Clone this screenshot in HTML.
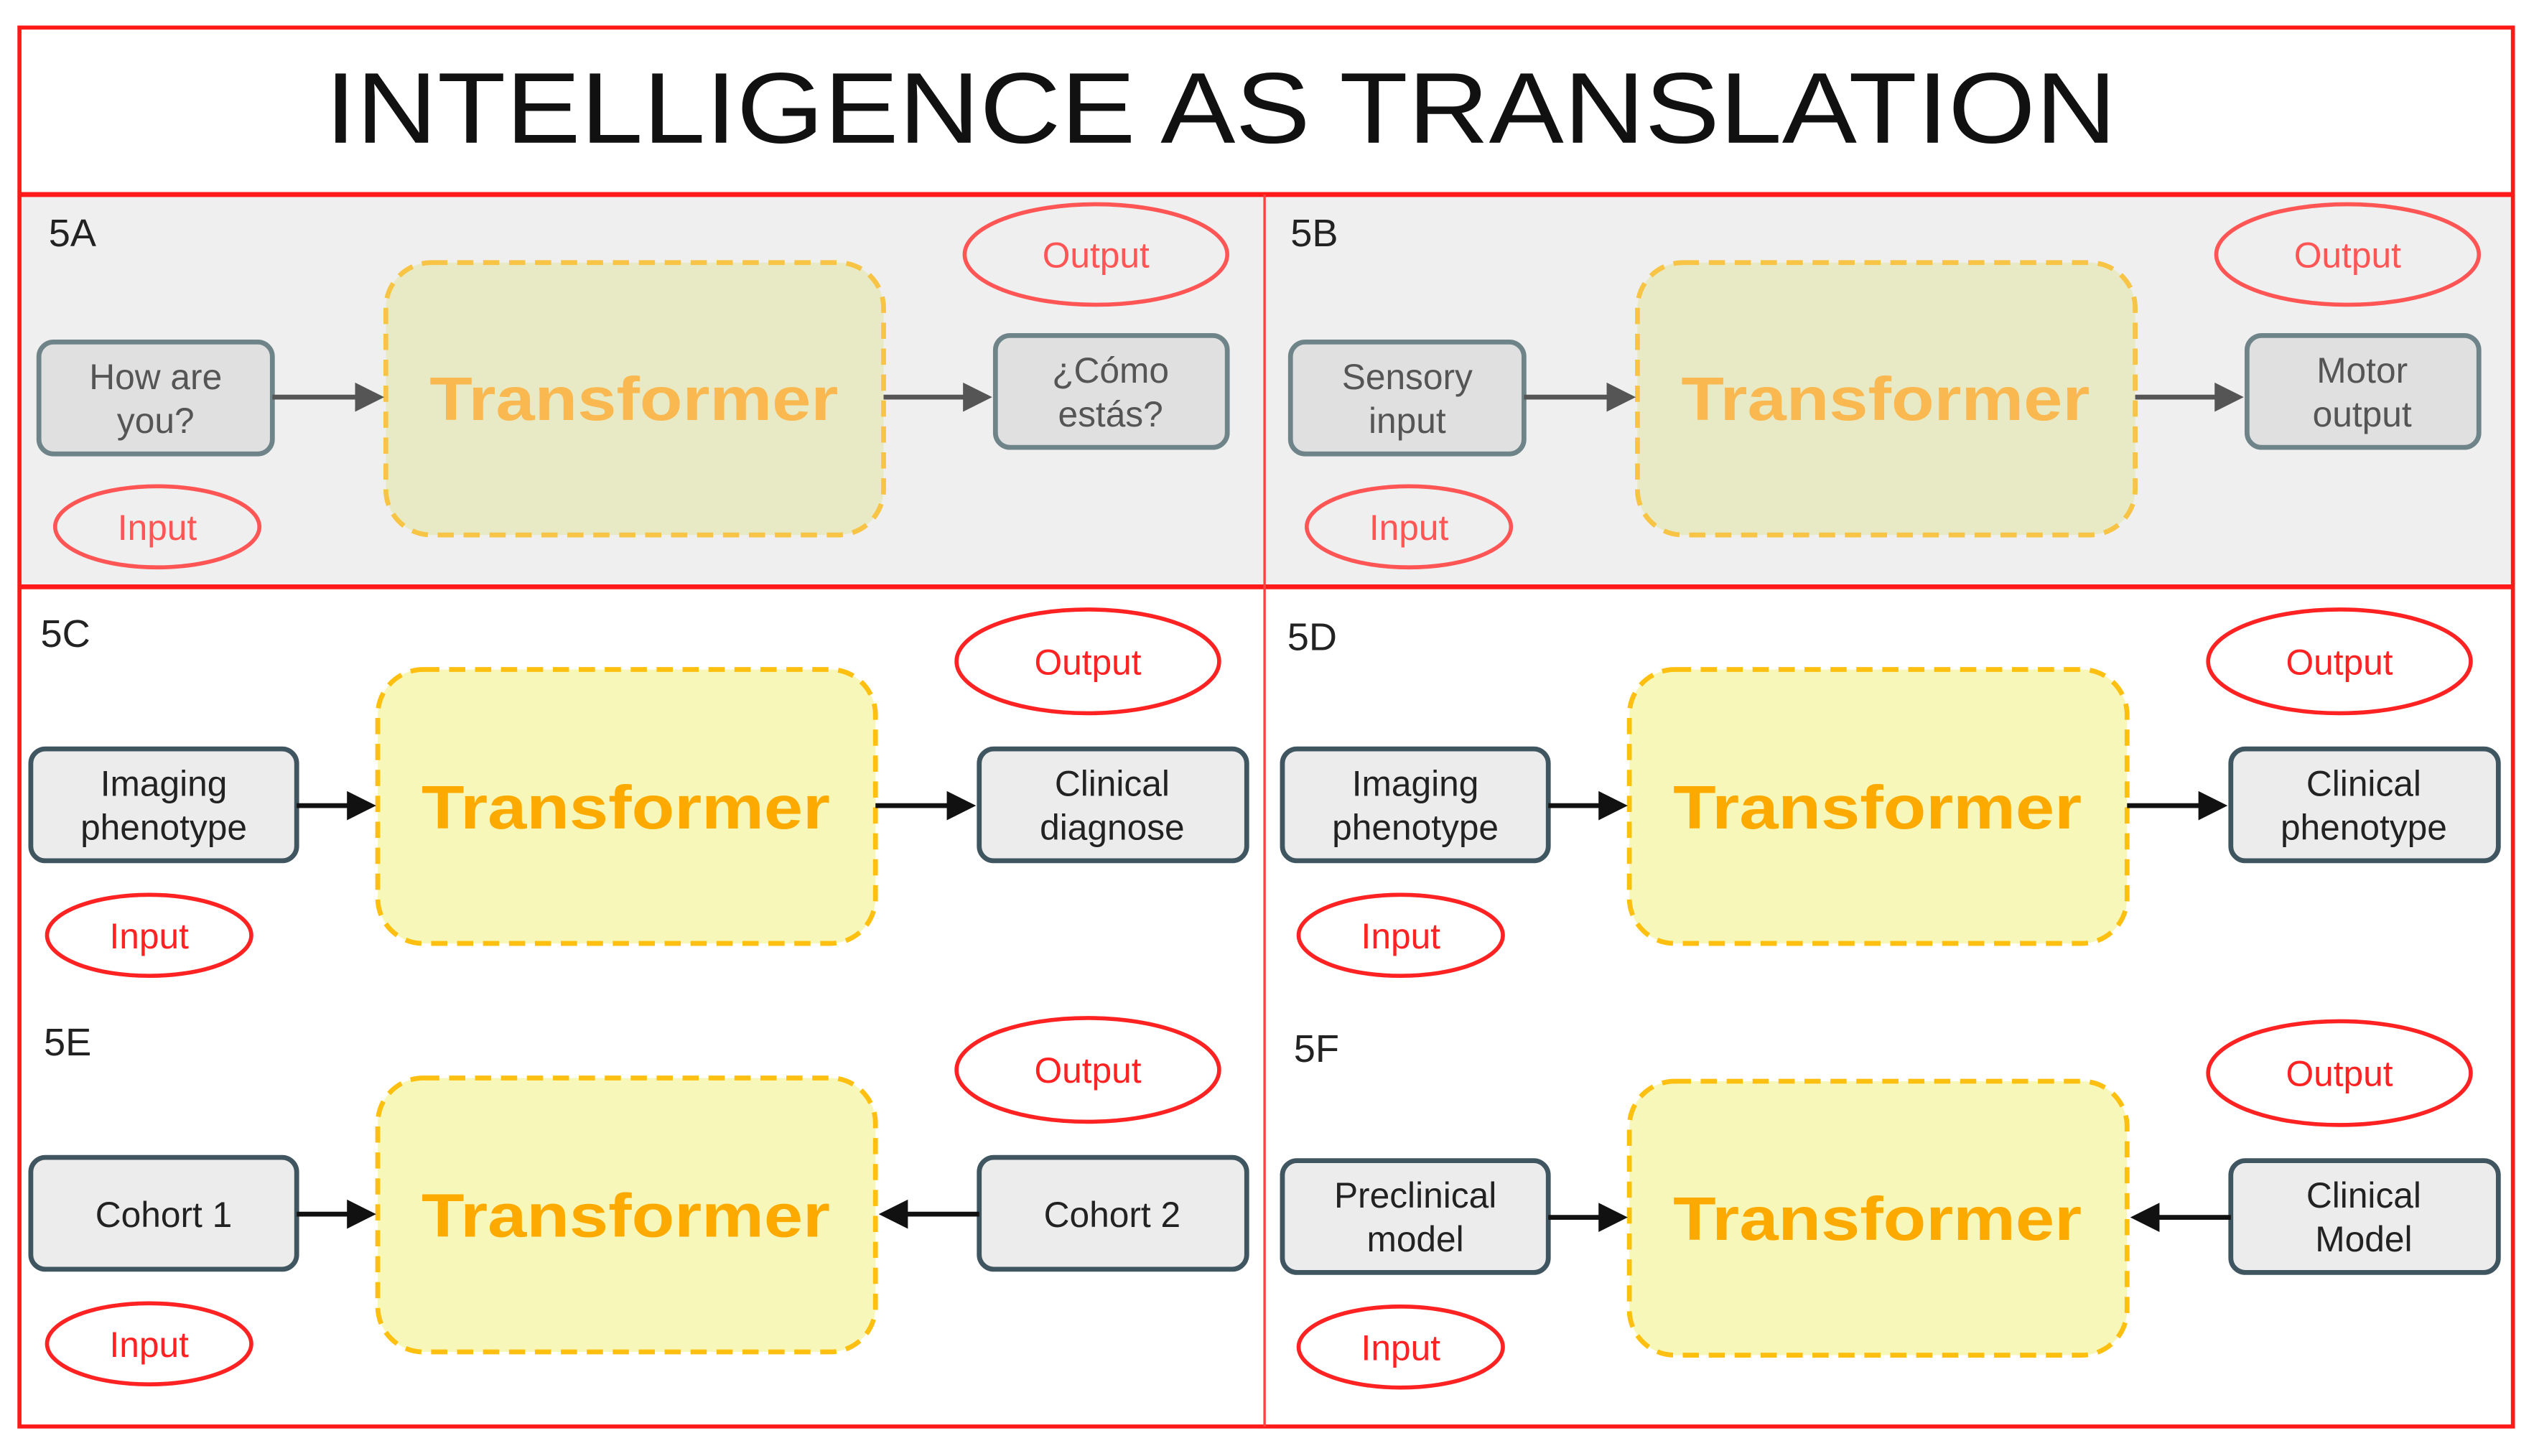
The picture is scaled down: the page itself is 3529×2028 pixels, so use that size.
<!DOCTYPE html>
<html><head><meta charset="utf-8"><style>html,body{margin:0;padding:0;background:#fff}svg{display:block}</style></head>
<body>
<svg width="3529" height="2028" viewBox="0 0 1563 898.2" xmlns="http://www.w3.org/2000/svg" font-family="'Liberation Sans', sans-serif">
<defs>
<marker id="ag" markerWidth="6" markerHeight="6" refX="5" refY="3" orient="auto" markerUnits="strokeWidth"><path d="M0,0 L6,3 L0,6 Z" fill="#555"/></marker>
<marker id="ab" markerWidth="6" markerHeight="6" refX="5" refY="3" orient="auto" markerUnits="strokeWidth"><path d="M0,0 L6,3 L0,6 Z" fill="#111"/></marker>
</defs>
<rect x="0" y="0" width="1563" height="898.2" fill="#fff"/>
<!-- top panels gray -->
<rect x="12" y="120" width="1538" height="242" fill="#efefef"/>
<!-- frame -->
<rect x="12" y="17" width="1538" height="863" fill="none" stroke="#ff1a1a" stroke-width="2.5"/>
<line x1="12" y1="120" x2="1550" y2="120" stroke="#ff1a1a" stroke-width="3"/>
<line x1="12" y1="362" x2="1550" y2="362" stroke="#ff1a1a" stroke-width="3"/>
<line x1="780" y1="120" x2="780" y2="880" stroke="#ff4040" stroke-width="1.5"/>
<text x="753" y="88" font-size="62" text-anchor="middle" fill="#111" textLength="1105" lengthAdjust="spacingAndGlyphs">INTELLIGENCE AS TRANSLATION</text>

<!-- 5A -->
<g id="pa">
<text x="30" y="152" font-size="24" fill="#222">5A</text>
<rect x="238" y="162" width="307" height="168" rx="28" fill="#e8eac6" stroke="#f7c445" stroke-width="3" stroke-dasharray="10,6"/>
<text x="391" y="259" font-size="38" font-weight="bold" fill="#f9b850" text-anchor="middle" textLength="252" lengthAdjust="spacingAndGlyphs">Transformer</text>
<rect x="24" y="211" width="144" height="69" rx="9" fill="#e0e0e0" stroke="#6f8489" stroke-width="3"/>
<rect x="614" y="207" width="143" height="69" rx="9" fill="#e0e0e0" stroke="#6f8489" stroke-width="3"/>
<line x1="168" y1="245" x2="234" y2="245" stroke="#555" stroke-width="3" marker-end="url(#ag)"/>
<line x1="545" y1="245" x2="609" y2="245" stroke="#555" stroke-width="3" marker-end="url(#ag)"/>
<ellipse cx="676" cy="157" rx="81" ry="31" fill="none" stroke="#f55" stroke-width="2.5"/>
<text x="676" y="165" font-size="22" fill="#f55" text-anchor="middle">Output</text>
<ellipse cx="97" cy="325" rx="63" ry="25" fill="none" stroke="#f55" stroke-width="2.5"/>
<text x="97" y="333" font-size="22" fill="#f55" text-anchor="middle">Input</text>
</g>
<g font-size="22" fill="#555" text-anchor="middle">
<text x="96" y="240">How are</text><text x="96" y="267">you?</text>
<text x="685" y="236">¿Cómo</text><text x="685" y="263">estás?</text>
</g>
<!-- 5B -->
<g transform="translate(772,0)">
<rect x="238" y="162" width="307" height="168" rx="28" fill="#e8eac6" stroke="#f7c445" stroke-width="3" stroke-dasharray="10,6"/>
<text x="391" y="259" font-size="38" font-weight="bold" fill="#f9b850" text-anchor="middle" textLength="252" lengthAdjust="spacingAndGlyphs">Transformer</text>
<rect x="24" y="211" width="144" height="69" rx="9" fill="#e0e0e0" stroke="#6f8489" stroke-width="3"/>
<rect x="614" y="207" width="143" height="69" rx="9" fill="#e0e0e0" stroke="#6f8489" stroke-width="3"/>
<line x1="168" y1="245" x2="234" y2="245" stroke="#555" stroke-width="3" marker-end="url(#ag)"/>
<line x1="545" y1="245" x2="609" y2="245" stroke="#555" stroke-width="3" marker-end="url(#ag)"/>
<ellipse cx="676" cy="157" rx="81" ry="31" fill="none" stroke="#f55" stroke-width="2.5"/>
<text x="676" y="165" font-size="22" fill="#f55" text-anchor="middle">Output</text>
<ellipse cx="97" cy="325" rx="63" ry="25" fill="none" stroke="#f55" stroke-width="2.5"/>
<text x="97" y="333" font-size="22" fill="#f55" text-anchor="middle">Input</text>
<text x="24" y="152" font-size="24" fill="#222">5B</text>
<g font-size="22" fill="#555" text-anchor="middle">
<text x="96" y="240">Sensory</text><text x="96" y="267">input</text>
<text x="685" y="236">Motor</text><text x="685" y="263">output</text>
</g>
</g>

<!-- bottom panels -->
<g id="bc">
<rect x="233" y="413" width="307" height="169" rx="28" fill="#f7f7b9" stroke="#fdc010" stroke-width="3" stroke-dasharray="10,6"/>
<text x="386" y="511" font-size="38" font-weight="bold" fill="#fdaa00" text-anchor="middle" textLength="252" lengthAdjust="spacingAndGlyphs">Transformer</text>
<rect x="19" y="462" width="164" height="69" rx="9" fill="#ececec" stroke="#3f5560" stroke-width="3"/>
<rect x="604" y="462" width="165" height="69" rx="9" fill="#ececec" stroke="#3f5560" stroke-width="3"/>
<ellipse cx="671" cy="408" rx="81" ry="32" fill="#fff" stroke="#f22" stroke-width="2.5"/>
<text x="671" y="416" font-size="22" fill="#f22" text-anchor="middle">Output</text>
<ellipse cx="92" cy="577" rx="63" ry="25" fill="#fff" stroke="#f22" stroke-width="2.5"/>
<text x="92" y="585" font-size="22" fill="#f22" text-anchor="middle">Input</text>
</g>
<line x1="183" y1="497" x2="229" y2="497" stroke="#111" stroke-width="3" marker-end="url(#ab)"/>
<line x1="540" y1="497" x2="599" y2="497" stroke="#111" stroke-width="3" marker-end="url(#ab)"/>
<text x="25" y="399" font-size="24" fill="#222">5C</text>
<g font-size="22" fill="#222" text-anchor="middle">
<text x="101" y="491">Imaging</text><text x="101" y="518">phenotype</text>
<text x="686" y="491">Clinical</text><text x="686" y="518">diagnose</text>
</g>

<!-- 5E -->
<g transform="translate(0,252)">
<use href="#bc"/>
<line x1="183" y1="497" x2="229" y2="497" stroke="#111" stroke-width="3" marker-end="url(#ab)"/>
<line x1="604" y1="497" x2="545" y2="497" stroke="#111" stroke-width="3" marker-end="url(#ab)"/>
<text x="27" y="399" font-size="24" fill="#222">5E</text>
<g font-size="22" fill="#222" text-anchor="middle">
<text x="101" y="505">Cohort 1</text>
<text x="686" y="505">Cohort 2</text>
</g>
</g>

<!-- 5D -->
<g transform="translate(772,0)">
<use href="#bc"/>
<line x1="183" y1="497" x2="229" y2="497" stroke="#111" stroke-width="3" marker-end="url(#ab)"/>
<line x1="540" y1="497" x2="599" y2="497" stroke="#111" stroke-width="3" marker-end="url(#ab)"/>
<text x="22" y="401" font-size="24" fill="#222">5D</text>
<g font-size="22" fill="#222" text-anchor="middle">
<text x="101" y="491">Imaging</text><text x="101" y="518">phenotype</text>
<text x="686" y="491">Clinical</text><text x="686" y="518">phenotype</text>
</g>
</g>

<!-- 5F -->
<g transform="translate(772,254)">
<use href="#bc"/>
<line x1="183" y1="497" x2="229" y2="497" stroke="#111" stroke-width="3" marker-end="url(#ab)"/>
<line x1="604" y1="497" x2="545" y2="497" stroke="#111" stroke-width="3" marker-end="url(#ab)"/>
<text x="26" y="401" font-size="24" fill="#222">5F</text>
<g font-size="22" fill="#222" text-anchor="middle">
<text x="101" y="491">Preclinical</text><text x="101" y="518">model</text>
<text x="686" y="491">Clinical</text><text x="686" y="518">Model</text>
</g>
</g>
</svg>
</body></html>
